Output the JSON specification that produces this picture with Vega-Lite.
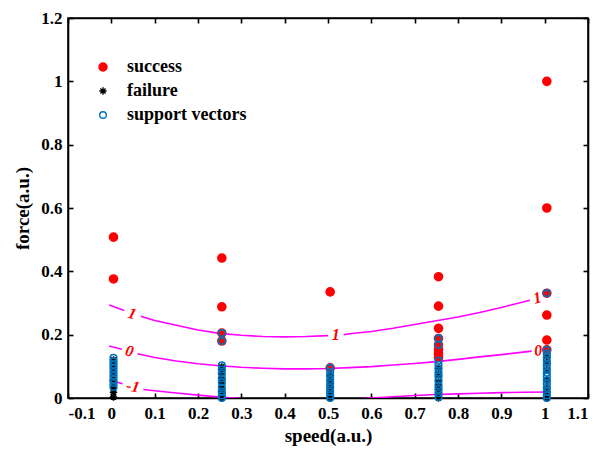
{
 "$schema": "https://vega.github.io/schema/vega-lite/v6.json",
 "width": 520, "height": 380,
 "autosize": {"type": "none"},
 "padding": {"left": 68, "top": 18, "right": 12, "bottom": 55},
 "background": "white",
 "config": {
  "view": {"stroke": "black", "strokeWidth": 1.5},
  "axis": {"grid": false, "domainColor": "black", "domainWidth": 1.6, "tickColor": "black", "tickWidth": 1.6, "tickSize": -5,
   "labelFont": "Liberation Serif", "labelFontWeight": "bold", "labelFontSize": 17, "labelColor": "black",
   "titleFont": "Liberation Serif", "titleFontWeight": "bold", "titleFontSize": 19, "titleColor": "black"}
 },
 "datasets": {
  "pts": [
   {"x":0.005,"y":0.508,"c":"success"},{"x":0.005,"y":0.376,"c":"success"},
   {"x":0.255,"y":0.442,"c":"success"},{"x":0.255,"y":0.288,"c":"success"},{"x":0.255,"y":0.205,"c":"success"},{"x":0.255,"y":0.18,"c":"success"},
   {"x":0.505,"y":0.335,"c":"success"},{"x":0.505,"y":0.095,"c":"success"},
   {"x":0.755,"y":0.383,"c":"success"},{"x":0.755,"y":0.29,"c":"success"},{"x":0.755,"y":0.22,"c":"success"},{"x":0.755,"y":0.188,"c":"success"},{"x":0.755,"y":0.168,"c":"success"},{"x":0.755,"y":0.153,"c":"success"},{"x":0.755,"y":0.14,"c":"success"},{"x":0.755,"y":0.128,"c":"success"},
   {"x":1.005,"y":1.0,"c":"success"},{"x":1.005,"y":0.6,"c":"success"},{"x":1.005,"y":0.331,"c":"success"},{"x":1.005,"y":0.262,"c":"success"},{"x":1.005,"y":0.183,"c":"success"},{"x":1.005,"y":0.152,"c":"success"},
   {"x":0.005,"y":0.003,"c":"failure"},{"x":0.005,"y":0.018,"c":"failure"},{"x":0.005,"y":0.03,"c":"failure"},{"x":0.005,"y":0.042,"c":"failure"},{"x":0.005,"y":0.055,"c":"failure"},{"x":0.005,"y":0.066,"c":"failure"},{"x":0.005,"y":0.078,"c":"failure"},{"x":0.005,"y":0.09,"c":"failure"},{"x":0.005,"y":0.1,"c":"failure"},{"x":0.005,"y":0.11,"c":"failure"},{"x":0.005,"y":0.12,"c":"failure"},
   {"x":0.255,"y":0.0,"c":"failure"},{"x":0.255,"y":0.008,"c":"failure"},{"x":0.255,"y":0.018,"c":"failure"},{"x":0.255,"y":0.03,"c":"failure"},{"x":0.255,"y":0.045,"c":"failure"},{"x":0.255,"y":0.06,"c":"failure"},{"x":0.255,"y":0.075,"c":"failure"},{"x":0.255,"y":0.088,"c":"failure"},{"x":0.255,"y":0.098,"c":"failure"},
   {"x":0.505,"y":0.0,"c":"failure"},{"x":0.505,"y":0.012,"c":"failure"},{"x":0.505,"y":0.025,"c":"failure"},{"x":0.505,"y":0.04,"c":"failure"},{"x":0.505,"y":0.055,"c":"failure"},{"x":0.505,"y":0.07,"c":"failure"},
   {"x":0.755,"y":0.0,"c":"failure"},{"x":0.755,"y":0.012,"c":"failure"},{"x":0.755,"y":0.025,"c":"failure"},{"x":0.755,"y":0.035,"c":"failure"},{"x":0.755,"y":0.05,"c":"failure"},{"x":0.755,"y":0.073,"c":"failure"},{"x":0.755,"y":0.095,"c":"failure"},
   {"x":1.005,"y":0.0,"c":"failure"},{"x":1.005,"y":0.015,"c":"failure"},{"x":1.005,"y":0.03,"c":"failure"},{"x":1.005,"y":0.057,"c":"failure"},{"x":1.005,"y":0.088,"c":"failure"},{"x":1.005,"y":0.11,"c":"failure"},{"x":1.005,"y":0.13,"c":"failure"},
   {"x":0.005,"y":0.035,"c":"support vectors"},{"x":0.005,"y":0.047,"c":"support vectors"},{"x":0.005,"y":0.058,"c":"support vectors"},{"x":0.005,"y":0.07,"c":"support vectors"},{"x":0.005,"y":0.082,"c":"support vectors"},{"x":0.005,"y":0.094,"c":"support vectors"},{"x":0.005,"y":0.105,"c":"support vectors"},{"x":0.005,"y":0.116,"c":"support vectors"},{"x":0.005,"y":0.127,"c":"support vectors"},
   {"x":0.255,"y":0.205,"c":"support vectors"},{"x":0.255,"y":0.18,"c":"support vectors"},{"x":0.255,"y":0.103,"c":"support vectors"},{"x":0.255,"y":0.09,"c":"support vectors"},{"x":0.255,"y":0.077,"c":"support vectors"},{"x":0.255,"y":0.062,"c":"support vectors"},{"x":0.255,"y":0.05,"c":"support vectors"},{"x":0.255,"y":0.033,"c":"support vectors"},{"x":0.255,"y":0.02,"c":"support vectors"},{"x":0.255,"y":0.008,"c":"support vectors"},{"x":0.255,"y":0.0,"c":"support vectors"},
   {"x":0.505,"y":0.095,"c":"support vectors"},{"x":0.505,"y":0.082,"c":"support vectors"},{"x":0.505,"y":0.07,"c":"support vectors"},{"x":0.505,"y":0.057,"c":"support vectors"},{"x":0.505,"y":0.045,"c":"support vectors"},{"x":0.505,"y":0.032,"c":"support vectors"},{"x":0.505,"y":0.02,"c":"support vectors"},{"x":0.505,"y":0.008,"c":"support vectors"},{"x":0.505,"y":0.0,"c":"support vectors"},
   {"x":0.755,"y":0.188,"c":"support vectors"},{"x":0.755,"y":0.168,"c":"support vectors"},{"x":0.755,"y":0.118,"c":"support vectors"},{"x":0.755,"y":0.105,"c":"support vectors"},{"x":0.755,"y":0.092,"c":"support vectors"},{"x":0.755,"y":0.08,"c":"support vectors"},{"x":0.755,"y":0.068,"c":"support vectors"},{"x":0.755,"y":0.055,"c":"support vectors"},{"x":0.755,"y":0.04,"c":"support vectors"},{"x":0.755,"y":0.028,"c":"support vectors"},{"x":0.755,"y":0.015,"c":"support vectors"},{"x":0.755,"y":0.003,"c":"support vectors"},
   {"x":1.005,"y":0.331,"c":"support vectors"},{"x":1.005,"y":0.152,"c":"support vectors"},{"x":1.005,"y":0.14,"c":"support vectors"},{"x":1.005,"y":0.128,"c":"support vectors"},{"x":1.005,"y":0.116,"c":"support vectors"},{"x":1.005,"y":0.104,"c":"support vectors"},{"x":1.005,"y":0.092,"c":"support vectors"},{"x":1.005,"y":0.08,"c":"support vectors"},{"x":1.005,"y":0.068,"c":"support vectors"},{"x":1.005,"y":0.056,"c":"support vectors"},{"x":1.005,"y":0.044,"c":"support vectors"},{"x":1.005,"y":0.032,"c":"support vectors"},{"x":1.005,"y":0.02,"c":"support vectors"},{"x":1.005,"y":0.008,"c":"support vectors"},{"x":1.005,"y":0.0,"c":"support vectors"}
  ],
  "cont": [
   {"x":-0.005,"y":0.294,"s":"1a"},{"x":0.03,"y":0.276,"s":"1a"},
   {"x":0.068,"y":0.258,"s":"1b"},{"x":0.1,"y":0.245,"s":"1b"},{"x":0.15,"y":0.23,"s":"1b"},{"x":0.2,"y":0.215,"s":"1b"},{"x":0.25,"y":0.204,"s":"1b"},{"x":0.3,"y":0.198,"s":"1b"},{"x":0.35,"y":0.194,"s":"1b"},{"x":0.4,"y":0.193,"s":"1b"},{"x":0.45,"y":0.194,"s":"1b"},{"x":0.5,"y":0.197,"s":"1b"},
   {"x":0.536,"y":0.2,"s":"1c"},{"x":0.55,"y":0.203,"s":"1c"},{"x":0.6,"y":0.21,"s":"1c"},{"x":0.65,"y":0.22,"s":"1c"},{"x":0.7,"y":0.232,"s":"1c"},{"x":0.75,"y":0.244,"s":"1c"},{"x":0.8,"y":0.256,"s":"1c"},{"x":0.85,"y":0.27,"s":"1c"},{"x":0.9,"y":0.286,"s":"1c"},{"x":0.95,"y":0.303,"s":"1c"},{"x":0.966,"y":0.309,"s":"1c"},
   {"x":-0.005,"y":0.164,"s":"0a"},{"x":0.024,"y":0.154,"s":"0a"},
   {"x":0.06,"y":0.14,"s":"0b"},{"x":0.1,"y":0.128,"s":"0b"},{"x":0.15,"y":0.117,"s":"0b"},{"x":0.2,"y":0.108,"s":"0b"},{"x":0.25,"y":0.102,"s":"0b"},{"x":0.3,"y":0.097,"s":"0b"},{"x":0.35,"y":0.094,"s":"0b"},{"x":0.4,"y":0.092,"s":"0b"},{"x":0.45,"y":0.092,"s":"0b"},{"x":0.5,"y":0.093,"s":"0b"},{"x":0.55,"y":0.096,"s":"0b"},{"x":0.6,"y":0.099,"s":"0b"},{"x":0.65,"y":0.104,"s":"0b"},{"x":0.7,"y":0.109,"s":"0b"},{"x":0.75,"y":0.115,"s":"0b"},{"x":0.8,"y":0.122,"s":"0b"},{"x":0.85,"y":0.13,"s":"0b"},{"x":0.9,"y":0.137,"s":"0b"},{"x":0.95,"y":0.145,"s":"0b"},{"x":0.97,"y":0.148,"s":"0b"},
   {"x":1.0,"y":0.152,"s":"0c"},{"x":1.005,"y":0.153,"s":"0c"},
   {"x":-0.005,"y":0.057,"s":"ma"},{"x":0.026,"y":0.045,"s":"ma"},
   {"x":0.074,"y":0.027,"s":"mb"},{"x":0.1,"y":0.023,"s":"mb"},{"x":0.15,"y":0.016,"s":"mb"},{"x":0.2,"y":0.009,"s":"mb"},{"x":0.25,"y":0.003,"s":"mb"},{"x":0.3,"y":-0.002,"s":"mb"},{"x":0.35,"y":-0.005,"s":"mb"},{"x":0.4,"y":-0.007,"s":"mb"},{"x":0.45,"y":-0.007,"s":"mb"},{"x":0.5,"y":-0.006,"s":"mb"},{"x":0.55,"y":-0.004,"s":"mb"},{"x":0.6,"y":0.0,"s":"mb"},{"x":0.65,"y":0.004,"s":"mb"},{"x":0.7,"y":0.008,"s":"mb"},{"x":0.75,"y":0.011,"s":"mb"},{"x":0.8,"y":0.013,"s":"mb"},{"x":0.85,"y":0.015,"s":"mb"},{"x":0.9,"y":0.017,"s":"mb"},{"x":0.95,"y":0.018,"s":"mb"},{"x":1.005,"y":0.019,"s":"mb"}
  ],
  "clab": [
   {"x":0.048,"y":0.266,"t":"1","a":15},
   {"x":0.042,"y":0.148,"t":"0","a":12},
   {"x":0.05,"y":0.036,"t":"-1","a":10},
   {"x":0.518,"y":0.2,"t":"1","a":0},
   {"x":0.983,"y":0.316,"t":"1","a":-15},
   {"x":0.985,"y":0.15,"t":"0","a":-6}
  ]
 },
 "layer": [
  {
   "data": {"name": "cont"},
   "mark": {"type": "line", "color": "#ff00ff", "strokeWidth": 1.6, "clip": true},
   "encoding": {
    "x": {"field": "x", "type": "quantitative", "scale": {"domain": [-0.1, 1.1], "nice": false, "zero": false}, "axis": null},
    "y": {"field": "y", "type": "quantitative", "scale": {"domain": [0, 1.2], "nice": false, "zero": false}, "axis": null},
    "detail": {"field": "s"}
   }
  },
  {
   "data": {"name": "pts"},
   "mark": {"type": "point", "opacity": 1, "strokeWidth": 1.6},
   "encoding": {
    "x": {"field": "x", "type": "quantitative", "scale": {"domain": [-0.1, 1.1], "nice": false, "zero": false},
     "axis": {"title": "speed(a.u.)", "values": [-0.1,0,0.1,0.2,0.3,0.4,0.5,0.6,0.7,0.8,0.9,1,1.1], "labelExpr": "'' + datum.value", "labelPadding": 12, "titlePadding": 5}},
    "y": {"field": "y", "type": "quantitative", "scale": {"domain": [0, 1.2], "nice": false, "zero": false},
     "axis": {"title": "force(a.u.)", "values": [0,0.2,0.4,0.6,0.8,1,1.2], "labelExpr": "'' + datum.value", "labelPadding": 11, "titlePadding": 8}},
    "shape": {"field": "c", "type": "nominal", "scale": {"domain": ["success","failure","support vectors"], "range": ["circle", "M-1,0L1,0M0,-1L0,1M-0.7,-0.7L0.7,0.7M-0.7,0.7L0.7,-0.7", "circle"]},
     "legend": {"title": null, "orient": "none", "legendX": 26, "legendY": 40, "labelFont": "Liberation Serif", "labelFontWeight": "bold", "labelFontSize": 18, "labelColor": "black", "rowPadding": 6, "labelOffset": 15, "symbolStrokeWidth": 1.4}},
    "fill": {"field": "c", "type": "nominal", "scale": {"domain": ["success","failure","support vectors"], "range": ["#ff0000", "transparent", "transparent"]}},
    "stroke": {"field": "c", "type": "nominal", "scale": {"domain": ["success","failure","support vectors"], "range": ["#ff0000", "#000000", "#0072BD"]}},
    "size": {"field": "c", "type": "nominal", "scale": {"domain": ["success","failure","support vectors"], "range": [64, 44, 76]}}
   }
  },
  {
   "data": {"name": "clab"},
   "mark": {"type": "text", "font": "Liberation Serif", "fontStyle": "italic", "fontWeight": "bold", "fontSize": 16, "color": "#ff0000", "baseline": "middle", "align": "center"},
   "encoding": {
    "x": {"field": "x", "type": "quantitative", "scale": {"domain": [-0.1, 1.1], "nice": false, "zero": false},
     "axis": {"orient": "top", "labels": false, "title": null, "values": [-0.1,0,0.1,0.2,0.3,0.4,0.5,0.6,0.7,0.8,0.9,1,1.1]}},
    "y": {"field": "y", "type": "quantitative", "scale": {"domain": [0, 1.2], "nice": false, "zero": false},
     "axis": {"orient": "right", "labels": false, "title": null, "values": [0,0.2,0.4,0.6,0.8,1,1.2]}},
    "text": {"field": "t"},
    "angle": {"field": "a", "type": "quantitative", "scale": null}
   }
  }
 ],
 "resolve": {"axis": {"x": "independent", "y": "independent"}}
}
